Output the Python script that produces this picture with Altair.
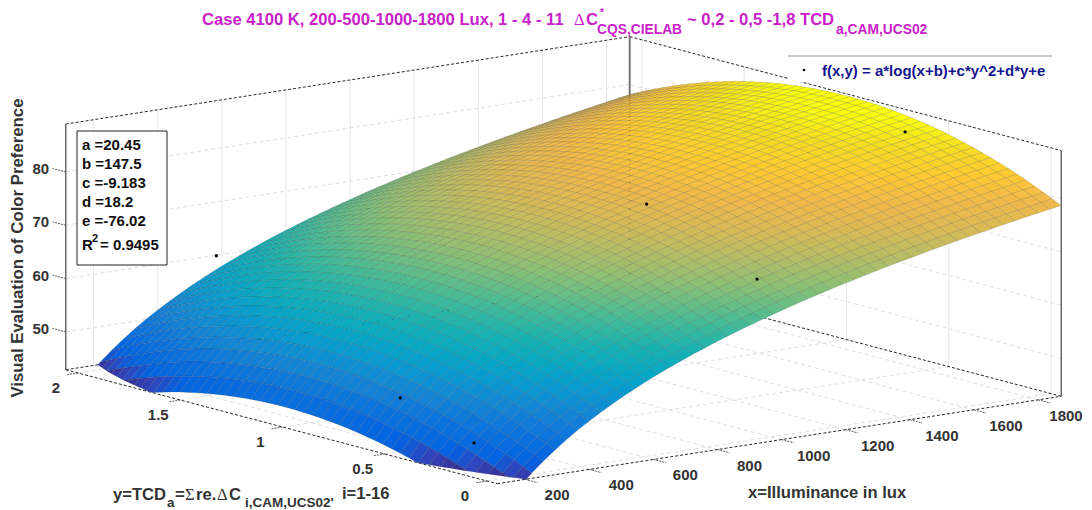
import altair as alt
import pandas as pd

alt.data_transformers.disable_max_rows()

# Surface mesh: illuminance (x) and TCD (y) grid lines across the axis box.
x_grid = [113.0,148.9,184.8,220.7,256.6,292.5,328.4,364.3,400.2,436.1,472.0,507.9,543.8,579.7,615.6,651.5,
          687.4,723.3,759.2,795.1,831.0,866.9,902.8,938.7,974.6,1010.5,1046.4,1082.3,1118.2,1154.1,1190.0,
          1225.9,1261.8,1297.7,1333.6,1369.5,1405.4,1441.3,1477.2,1513.1,1549.0,1584.9,1620.8,1656.7,1692.6,
          1728.5,1764.4,1800.3,1836.2,1872.1]
y_grid = [-0.05,-0.0069,0.0361,0.0792,0.1222,0.1653,0.2084,0.2514,0.2945,0.3376,0.3806,0.4237,0.4667,0.5098,
          0.5529,0.5959,0.6390,0.6820,0.7251,0.7682,0.8112,0.8543,0.8973,0.9404,0.9835,1.0265,1.0696,1.1126,
          1.1557,1.1988,1.2418,1.2849,1.3279,1.3710,1.4141,1.4571,1.5002,1.5432,1.5863,1.6294,1.6724,1.7155,
          1.7585,1.8016,1.8447,1.8877,1.9308,1.9738,2.0169,2.06]
# Height of the plotted fit along each grid line, tabulated by hand using the
# coefficients printed in the chart's own box (a, b, e for x; c, d for y).
z_along_x = [37.74,40.37,42.71,44.81,46.71,48.45,50.06,51.54,52.93,54.23,55.45,56.60,57.69,58.73,59.71,60.66,
             61.55,62.42,63.24,64.04,64.80,65.54,66.25,66.94,67.60,68.24,68.87,69.47,70.06,70.63,71.19,71.73,
             72.26,72.77,73.28,73.77,74.24,74.71,75.17,75.62,76.05,76.48,76.90,77.31,77.72,78.11,78.50,78.88,
             79.25,79.62]
z_along_y = [-0.93,-0.13,0.65,1.38,2.09,2.76,3.39,4.00,4.56,5.10,5.60,6.06,6.49,6.89,7.26,7.58,7.88,8.14,8.37,
             8.56,8.72,8.85,8.94,8.99,9.02,9.01,8.96,8.88,8.77,8.62,8.44,8.22,7.98,7.69,7.37,7.02,6.64,6.22,
             5.76,5.27,4.75,4.20,3.61,2.98,2.33,1.63,0.91,0.15,-0.65,-1.48]

pt_x = [200, 200, 500, 1000, 1000, 1800]
pt_y = [0.2, 0.56, 1.93, 0.61, 0.07, 0.6]
pt_z = [47.2, 52.0, 62.0, 80.4, 71.8, 86.6]

x_ticks = [200, 400, 600, 800, 1000, 1200, 1400, 1600, 1800]
y_ticks = [0, 0.5, 1, 1.5, 2]
y_tick_labels = ["0", "0.5", "1", "1.5", "2"]
z_ticks = [50, 60, 70, 80]

XMIN, XMAX, YMIN, YMAX, ZMIN, ZMAX = 113.0, 1872.1, -0.05, 2.06, 42.9, 89.0

parula = ["#352a87", "#3243ba", "#0363e1", "#0d75dc", "#1485d4", "#0998d1", "#06a7c6", "#15b1b4", "#38b99e",
          "#65be86", "#92bf73", "#b7bd64", "#d9ba56", "#f1b949", "#fec932", "#f5de21", "#f9fb0e"]
color_stops = [41.5, 43.8, 45.5, 49.8, 52.8, 55.8, 58.7, 61.7, 64.6, 67.6, 70.5, 73.5, 76.4, 79.4, 82.3, 85.3, 87.5]

PW, PH = 1076, 502
sx = alt.Scale(domain=[8, 8 + PW], nice=False, zero=False)
sy = alt.Scale(domain=[8 + PH, 8], nice=False, zero=False)


def project(x, y, z):
    """Oblique view of the MATLAB axes, returned in page pixels."""
    return (487 - 204.5 * y + 0.3206 * (x - 113),
            481 - 54 * y - 0.0497 * (x - 113) - 5.33 * (z - ZMIN))


def clip_floor(poly):
    out = []
    for k, p in enumerate(poly):
        q = poly[(k + 1) % len(poly)]
        if p[2] >= ZMIN:
            out.append(p)
        if (p[2] >= ZMIN) != (q[2] >= ZMIN):
            t = (ZMIN - p[2]) / (q[2] - p[2])
            out.append((p[0] + t * (q[0] - p[0]), p[1] + t * (q[1] - p[1]), ZMIN))
    return out


rows = []
cid = 0
for i in range(len(x_grid) - 2, -1, -1):
    for j in range(len(y_grid) - 2, -1, -1):
        corners = [(x_grid[a], y_grid[b], z_along_x[a] + z_along_y[b])
                   for a, b in ((i, j), (i + 1, j), (i + 1, j + 1), (i, j + 1))]
        zc = sum(c[2] for c in corners) / 4
        poly = clip_floor(corners)
        if len(poly) < 3:
            continue
        poly.append(poly[0])
        for k, p in enumerate(poly):
            X, Y = project(*p)
            rows.append({"X": round(X, 2), "Y": round(Y, 2), "k": k, "cell": f"c{cid:05d}", "zc": round(zc, 2)})
        cid += 1
surface_df = pd.DataFrame(rows)


def seg(a, b):
    xa, ya = project(*a)
    xb, yb = project(*b)
    return {"X": xa, "Y": ya, "X2": xb, "Y2": yb}


def rules(segs, **kw):
    return alt.Chart(pd.DataFrame(segs)).mark_rule(**kw).encode(
        x=alt.X("X:Q", scale=sx, axis=None), y=alt.Y("Y:Q", scale=sy, axis=None),
        x2="X2:Q", y2="Y2:Q")


def texts(items, **kw):
    df = pd.DataFrame([{"X": a, "Y": b, "T": t} for a, b, t in items])
    return alt.Chart(df).mark_text(**kw).encode(
        x=alt.X("X:Q", scale=sx, axis=None), y=alt.Y("Y:Q", scale=sy, axis=None), text="T:N")


grid_dash, grid_solid = [], []
for v in x_ticks:
    grid_dash.append(seg((v, YMIN, ZMIN), (v, YMAX, ZMIN)))
    grid_solid.append(seg((v, YMAX, ZMIN), (v, YMAX, ZMAX)))
for v in y_ticks:
    grid_dash.append(seg((XMIN, v, ZMIN), (XMAX, v, ZMIN)))
    grid_solid.append(seg((XMAX, v, ZMIN), (XMAX, v, ZMAX)))
for v in z_ticks:
    grid_dash.append(seg((XMIN, YMAX, v), (XMAX, YMAX, v)))
    grid_dash.append(seg((XMAX, YMIN, v), (XMAX, YMAX, v)))

box_dash = [
    seg((XMIN, YMAX, ZMIN), (XMIN, YMIN, ZMIN)),
    seg((XMIN, YMIN, ZMIN), (XMAX, YMIN, ZMIN)),
    seg((XMAX, YMIN, ZMIN), (XMAX, YMAX, ZMIN)),
    seg((XMIN, YMAX, ZMIN), (XMAX, YMAX, ZMIN)),
    seg((XMIN, YMAX, ZMAX), (XMAX, YMAX, ZMAX)),
    seg((XMAX, YMAX, ZMAX), (XMAX, YMIN, ZMAX)),
]
tick_segs = ([seg((v, YMIN, ZMIN), (v, YMIN - 0.06, ZMIN)) for v in x_ticks]
             + [seg((XMIN, v, ZMIN), (XMIN - 37, v, ZMIN)) for v in y_ticks]
             + [seg((XMIN, YMAX, v), (XMIN, YMAX + 0.065, v)) for v in z_ticks])

surface = alt.Chart(surface_df).mark_line(
    filled=True, stroke="#1a1a1a", strokeWidth=0.35, strokeOpacity=0.38, interpolate="linear"
).encode(
    x=alt.X("X:Q", scale=sx, axis=None),
    y=alt.Y("Y:Q", scale=sy, axis=None),
    color=alt.Color("zc:Q", scale=alt.Scale(domain=color_stops, range=parula, interpolate="rgb"), legend=None),
    detail="cell:N",
    order=alt.Order("k:Q"),
)

points = alt.Chart(pd.DataFrame([dict(zip("XY", project(a, b, c))) for a, b, c in zip(pt_x, pt_y, pt_z)])).mark_circle(
    color="#000000", size=11, opacity=1
).encode(x=alt.X("X:Q", scale=sx, axis=None), y=alt.Y("Y:Q", scale=sy, axis=None))

TICK = dict(font="Liberation Sans", fontWeight="bold", fontSize=15, color="#333333", baseline="middle", align="center")
x_labels = [(min(project(v, YMIN, ZMIN)[0] + 32, 1066), project(v, YMIN, ZMIN)[1] + 16, str(v)) for v in x_ticks]
y_labels = [(project(XMIN, v, ZMIN)[0] - 22, project(XMIN, v, ZMIN)[1] + 15, s) for v, s in zip(y_ticks, y_tick_labels)]
z_labels = [(project(XMIN, YMAX, v)[0] - 25, project(XMIN, YMAX, v)[1] - 3, str(v)) for v in z_ticks]

MAG = dict(font="Liberation Sans", fontWeight="bold", color="#c921c9", align="left", baseline="alphabetic")
title = alt.layer(
    texts([(202, 25, "Case 4100 K, 200-500-1000-1800 Lux, 1 - 4 - 11"), (687, 25, "~ 0,2 - 0,5 -1,8 TCD")], fontSize=16.6, **MAG),
    texts([(574, 25, "\u0394")], fontSize=16.6, font="Liberation Serif", color="#c921c9", align="left", baseline="alphabetic"),
    texts([(586, 25, "C")], fontSize=16.6, **MAG),
    texts([(600, 16, "*")], fontSize=10, **MAG),
    texts([(597, 34, "CQS,CIELAB"), (836, 34, "a,CAM,UCS02")], fontSize=13.8, **MAG),
)

DARK = dict(font="Liberation Sans", fontWeight="bold", color="#333333", align="left", baseline="alphabetic")
axis_titles = alt.layer(
    texts([(18, 248, "Visual Evaluation of Color Preference")], font="Liberation Sans", fontWeight="bold",
          color="#333333", fontSize=16.8, angle=270, align="center", baseline="middle"),
    texts([(748, 498, "x=Illuminance in lux"), (113, 500, "y=TCD"), (342, 499, "i=1-16")], fontSize=16.6, **DARK),
    texts([(167, 507, "a"), (245, 507, "i,CAM,UCS02'")], fontSize=13.5, **DARK),
    texts([(175, 500, "=")], fontSize=16.6, **DARK),
    texts([(185, 500, "\u03a3"), (217, 500, "\u0394")], fontSize=16.6, font="Liberation Serif", color="#333333",
          align="left", baseline="alphabetic"),
    texts([(196, 500, "re."), (229, 500, "C")], fontSize=16.6, **DARK),
)

BOX = dict(font="Liberation Sans", fontWeight="bold", color="#111111", fontSize=15, align="left", baseline="middle")
box_df = pd.DataFrame([{"X": 77, "Y": 131, "X2": 167, "Y2": 265}])
coef_box = alt.Chart(box_df).mark_rect(fill="white", stroke="#222222", strokeWidth=1).encode(
    x=alt.X("X:Q", scale=sx, axis=None), y=alt.Y("Y:Q", scale=sy, axis=None), x2="X2:Q", y2="Y2:Q")
coef_text = alt.layer(
    texts([(82, 145, "a =20.45"), (82, 164, "b =147.5"), (82, 183, "c =-9.183"), (82, 202, "d =18.2"),
           (82, 221, "e =-76.02"), (82, 245, "R"), (100, 245, "= 0.9495")], **BOX),
    texts([(92, 239, "2")], font="Liberation Sans", fontWeight="bold", color="#111111", fontSize=11, align="left", baseline="middle"),
)

leg_bg = alt.Chart(pd.DataFrame([{"X": 788, "Y": 56, "X2": 1052, "Y2": 82}])).mark_rect(fill="white").encode(
    x=alt.X("X:Q", scale=sx, axis=None), y=alt.Y("Y:Q", scale=sy, axis=None), x2="X2:Q", y2="Y2:Q")
leg_line = alt.Chart(pd.DataFrame([{"X": 788, "Y": 56, "X2": 1052}])).mark_rule(color="#9a9a9a", strokeWidth=1.2).encode(
    x=alt.X("X:Q", scale=sx, axis=None), y=alt.Y("Y:Q", scale=sy, axis=None), x2="X2:Q")
leg_dot = alt.Chart(pd.DataFrame([{"X": 804, "Y": 70}])).mark_circle(color="#000000", size=7, opacity=1).encode(
    x=alt.X("X:Q", scale=sx, axis=None), y=alt.Y("Y:Q", scale=sy, axis=None))
leg_text = texts([(822, 71, "f(x,y) = a*log(x+b)+c*y^2+d*y+e")], font="Liberation Sans", fontWeight="bold",
                 color="#16168f", fontSize=15, align="left", baseline="middle")

chart = alt.layer(
    rules(grid_dash, color="#d6d6d6", strokeWidth=0.8, strokeDash=[4, 3]),
    rules(grid_solid, color="#e0e0e0", strokeWidth=0.8),
    rules(box_dash, color="#111111", strokeWidth=0.9, strokeDash=[3, 2]),
    rules(tick_segs, color="#333333", strokeWidth=0.8, strokeDash=[2, 1]),
    rules([seg((XMAX, YMAX, ZMIN), (XMAX, YMAX, ZMAX))], color="#777777", strokeWidth=2),
    rules([seg((XMIN, YMAX, ZMIN), (XMIN, YMAX, ZMAX))], color="#666666", strokeWidth=1.5),
    rules([seg((XMAX, YMIN, ZMIN), (XMAX, YMIN, ZMAX))], color="#222222", strokeWidth=1),
    surface,
    points,
    texts(x_labels, **TICK),
    texts(y_labels, **TICK),
    texts(z_labels, **TICK),
    title,
    axis_titles,
    coef_box,
    coef_text,
    leg_bg,
    leg_line,
    leg_dot,
    leg_text,
).properties(
    width=PW, height=PH, padding=0, autosize=alt.AutoSizeParams(type="none"),
    background="white",
).configure_view(stroke=None)

chart.save("out.html", embed_options={"renderer": "svg", "actions": False})
